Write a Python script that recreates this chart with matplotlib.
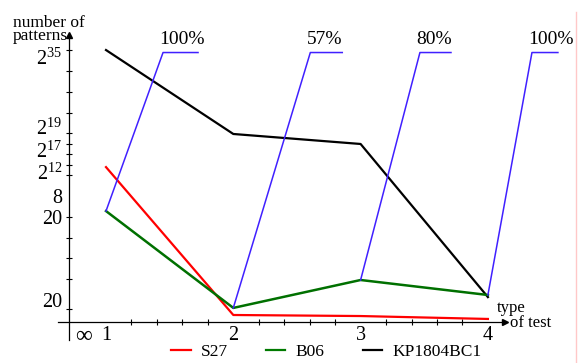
import matplotlib
matplotlib.use("Agg")
import matplotlib.pyplot as plt
from matplotlib.lines import Line2D

plt.rcParams['font.family'] = ['Liberation Serif', 'DejaVu Serif']
plt.rcParams['mathtext.fontset'] = 'custom'
plt.rcParams['mathtext.rm'] = 'Liberation Serif'
plt.rcParams['mathtext.it'] = 'Liberation Serif:italic'
plt.rcParams['mathtext.bf'] = 'Liberation Serif:bold'

# ---- data (y in the chart's own scale units) ----
tests = [1, 2, 3, 4]
test_labels = ['1', '2', '3', '4']
s27 = [6.38, -0.72, -0.77, -0.91]
b06 = [4.27, -0.38, 0.96, 0.24]
kp1804 = [12.0, 7.97, 7.49, 0.14]
coverage = ['100%', '57%', '80%', '100%']
ytick_vals = [11.7, 8.3, 7.2, 6.15, 5.0, 3.98, 0.0]
ytick_labels = [r'$2^{35}$', r'$2^{19}$', r'$2^{17}$', r'$2^{12}$', '8', '20', '20']

# ---- layout ----
fig = plt.figure(figsize=(5.81, 3.63), dpi=100)
ax = fig.add_axes([0, 0, 1, 1])
ax.set_xlim(0.1673, 4.7313)
ax.set_ylim(-3.0245, 14.402)

x_axis_y = -1.056
y_axis_x = 0.7094
for s in ['top', 'right']:
    ax.spines[s].set_visible(False)
ax.spines['left'].set_position(('data', y_axis_x))
ax.spines['left'].set_bounds(-1.92, 12.72)
ax.spines['bottom'].set_position(('data', x_axis_y))
ax.spines['bottom'].set_bounds(0.623, 4.134)
for s in ['left', 'bottom']:
    ax.spines[s].set_linewidth(0.9)

# arrow heads
ax.plot([y_axis_x], [12.72], marker='^', color='black', ms=5, clip_on=False)
ax.plot([4.134], [x_axis_y], marker='>', color='black', ms=5, clip_on=False)

# y ticks
ax.set_yticks(ytick_vals)
ax.set_yticklabels(ytick_labels)
ax.tick_params(axis='y', which='major', length=0, pad=5, labelsize=14.5)
ax.set_yticks(list(range(0, 13)) + [7.5, 6.5, -0.45], minor=True)
ax.tick_params(axis='y', which='minor', direction='inout', length=5, width=0.8)

# x ticks
ax.set_xticks([0.82] + tests)
ax.set_xticklabels(['\u221e'] + test_labels)
ax.tick_params(axis='x', which='major', length=0, pad=3, labelsize=14.5)
ax.get_xticklabels()[0].set_fontsize(17)
ax.set_xticks([1 + 0.2 * i for i in range(16)], minor=True)
ax.tick_params(axis='x', which='minor', direction='inout', length=5, width=0.8)

# series
ax.plot(tests, kp1804, color='black', lw=1.6, label='KP1804BC1', zorder=3)
ax.plot(tests, s27, color='#ff0000', lw=1.6, label='S27', zorder=3)
ax.plot(tests, b06, color='#007000', lw=1.8, label='B06', zorder=4)

# coverage callouts
blue = '#4020ff'
dxs = [0.448, 0.605, 0.466, 0.346]
widths = [0.275, 0.251, 0.244, 0.204]
ytop = 11.88
for x, y, lab, dx, w in zip(tests, b06, coverage, dxs, widths):
    ax.plot([x, x + dx, x + dx + w], [y, ytop, ytop], color=blue, lw=1.1, zorder=5)
    ax.text(x + dx - 0.03, ytop + 0.2, lab, ha='left', va='bottom', fontsize=14)

# axis labels
fig.text(13 / 581, 1 - 44 / 363, 'number of\npatterns', ha='left', va='bottom',
         fontsize=12.5, linespacing=0.72)
fig.text(497 / 581, 1 - 316 / 363, 'type', ha='left', va='bottom', fontsize=12)
fig.text(510 / 581, 1 - 331 / 363, 'of test', ha='left', va='bottom', fontsize=12)

# right border line
fig.add_artist(Line2D([576 / 581, 576 / 581], [0, 1 - 12 / 363], color='#ffc8c8', lw=1.0))

# legend
handles = [Line2D([], [], color='#ff0000', lw=1.6),
           Line2D([], [], color='#007a00', lw=1.6),
           Line2D([], [], color='black', lw=1.6)]
fig.legend(handles, ['S27', 'B06', 'KP1804BC1'], loc='center', ncol=3,
           bbox_to_anchor=(0.562, 0.03), frameon=False, fontsize=12.5,
           handlelength=1.1, handletextpad=0.6, columnspacing=2.2, borderpad=0)

fig.savefig('out.png', dpi=100)
